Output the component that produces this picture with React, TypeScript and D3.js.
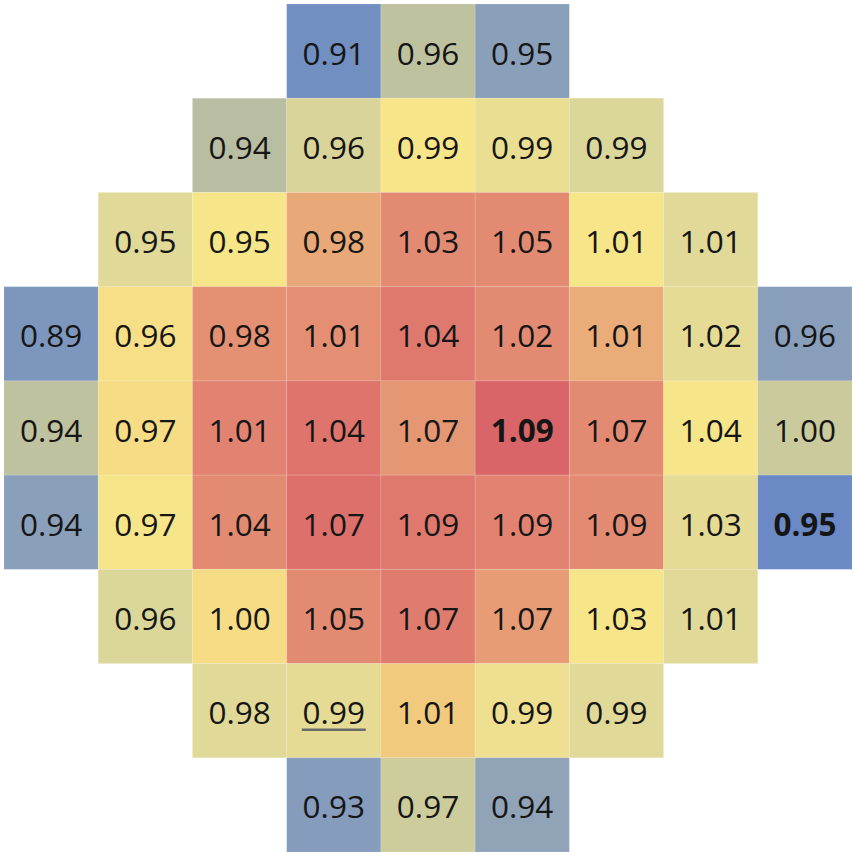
import React from "react";
import * as d3 from "d3";

// Displayed values per row (null = no assembly)
const row0 = [null, null, null, 0.91, 0.96, 0.95, null, null, null];
const row1 = [null, null, 0.94, 0.96, 0.99, 0.99, 0.99, null, null];
const row2 = [null, 0.95, 0.95, 0.98, 1.03, 1.05, 1.01, 1.01, null];
const row3 = [0.89, 0.96, 0.98, 1.01, 1.04, 1.02, 1.01, 1.02, 0.96];
const row4 = [0.94, 0.97, 1.01, 1.04, 1.07, 1.09, 1.07, 1.04, 1.0];
const row5 = [0.94, 0.97, 1.04, 1.07, 1.09, 1.09, 1.09, 1.03, 0.95];
const row6 = [null, 0.96, 1.0, 1.05, 1.07, 1.07, 1.03, 1.01, null];
const row7 = [null, null, 0.98, 0.99, 1.01, 0.99, 0.99, null, null];
const row8 = [null, null, null, 0.93, 0.97, 0.94, null, null, null];
const values = [row0, row1, row2, row3, row4, row5, row6, row7, row8];

// Colour level of each cell (0 = blue .. 1 = red)
const heat0 = [null, null, null, 0.05, 0.36, 0.2, null, null, null];
const heat1 = [null, null, 0.34, 0.47, 0.6, 0.54, 0.48, null, null];
const heat2 = [null, 0.5, 0.6, 0.8, 0.9, 0.9, 0.6, 0.5, null];
const heat3 = [0.12, 0.63, 0.88, 0.89, 0.95, 0.9, 0.79, 0.52, 0.19];
const heat4 = [0.36, 0.65, 0.92, 0.96, 0.86, 1.0, 0.9, 0.6, 0.41];
const heat5 = [0.2, 0.6, 0.9, 0.97, 0.95, 0.92, 0.9, 0.52, 0.0];
const heat6 = [null, 0.48, 0.65, 0.9, 0.94, 0.84, 0.6, 0.5, null];
const heat7 = [null, null, 0.5, 0.52, 0.72, 0.56, 0.5, null, null];
const heat8 = [null, null, null, 0.17, 0.42, 0.22, null, null, null];
const heat = [heat0, heat1, heat2, heat3, heat4, heat5, heat6, heat7, heat8];

// Emphasis markers: [row, col]
const boldCells = [[4, 5], [5, 8]];
const semiBoldCells = [[4, 2], [4, 3], [4, 7], [4, 8]];
const underlinedCells = [[7, 3]];

const W = 856;
const H = 856;
const margin = 4;

export default function App() {
  const n = 9;
  const x = d3.scaleBand<number>().domain(d3.range(n)).range([margin, W - margin]).padding(0);
  const y = d3.scaleBand<number>().domain(d3.range(n)).range([margin, H - margin]).padding(0);
  const color = d3
    .scaleLinear<string>()
    .domain([0, 0.2, 0.35, 0.5, 0.6, 0.7, 0.8, 0.9, 1.0])
    .range(["#6a89c5", "#8a9fba", "#bcc0a0", "#e0d998", "#f7e58a", "#f4d27f", "#e9a878", "#e38b72", "#da6568"])
    .interpolate(d3.interpolateRgb);

  const has = (list: number[][], r: number, c: number) => list.some(([a, b]) => a === r && b === c);

  const cells: JSX.Element[] = [];
  const labels: JSX.Element[] = [];
  values.forEach((row, r) => {
    row.forEach((v, c) => {
      if (v == null) return;
      const x0 = x(c)!;
      const y0 = y(r)!;
      const bw = x.bandwidth();
      const bh = y.bandwidth();
      cells.push(
        <rect key={`r${r}-${c}`} x={x0} y={y0} width={bw} height={bh} fill={color(heat[r][c] as number)} stroke="rgba(255,255,255,0.12)" strokeWidth={1} />
      );
      const weight = has(boldCells, r, c) ? 700 : has(semiBoldCells, r, c) ? 500 : 400;
      labels.push(
        <text
          key={`t${r}-${c}`}
          x={x0 + bw / 2}
          y={y0 + bh / 2 + 1}
          textAnchor="middle"
          dominantBaseline="central"
          fontFamily="'Open Sans', sans-serif"
          fontSize={31.5}
          fontWeight={weight}
          fill="#161616"
        >
          {d3.format(".2f")(v)}
        </text>
      );
      if (has(underlinedCells, r, c)) {
        labels.push(
          <line key={`u${r}-${c}`} x1={x0 + bw / 2 - 32} x2={x0 + bw / 2 + 32} y1={y0 + bh / 2 + 19} y2={y0 + bh / 2 + 19} stroke="#6b6b6b" strokeWidth={2.5} />
        );
      }
    });
  });

  return (
    <svg width={W} height={H} style={{ position: "absolute", left: 0, top: 0, display: "block", background: "#fff" }}>
      <rect x={0} y={0} width={W} height={H} fill="#fff" />
      <g>{cells}</g>
      <g>{labels}</g>
    </svg>
  );
}
